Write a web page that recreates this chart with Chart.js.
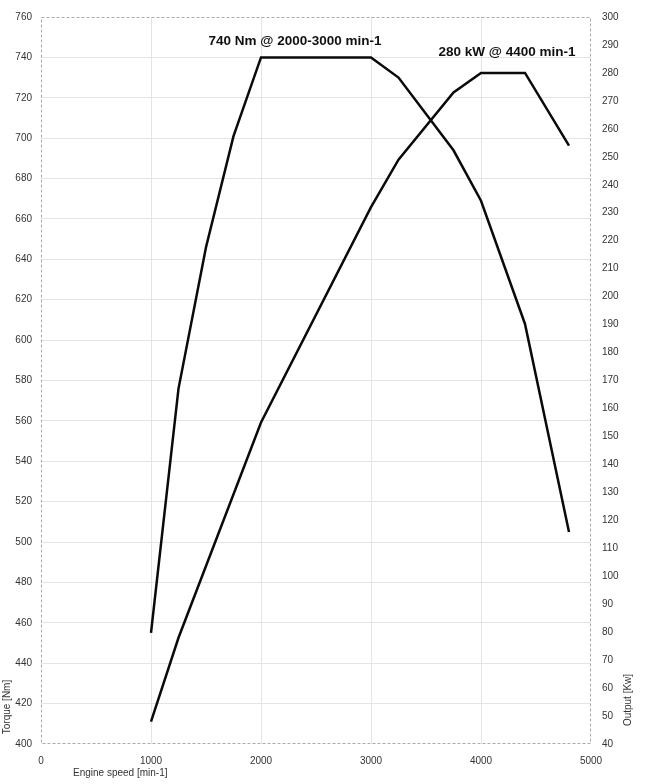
<!DOCTYPE html>
<html>
<head>
<meta charset="utf-8">
<script src="https://cdn.jsdelivr.net/npm/chart.js@4"></script>
<style>
  html, body { margin: 0; padding: 0; background: #ffffff; }
  #wrap { width: 647px; height: 784px; position: relative; }
</style>
</head>
<body>
<div id="wrap"><canvas id="c"></canvas></div>
<script>
// ---- data ----
const torqueRpm = [1000, 1250, 1500, 1750, 2000, 3000, 3250, 3750, 4000, 4400, 4800];
const torqueNm  = [455, 576, 646, 701, 740, 740, 730, 694, 669, 608, 505];
const powerRpm  = [1000, 1250, 2000, 3000, 3250, 3750, 4000, 4400, 4800];
const powerKw   = [48, 78, 155, 232, 249, 273, 280, 280, 254];
const xTitle = "Engine speed [min-1]";
const yLeftTitle = "Torque [Nm]";
const yRightTitle = "Output [Kw]";
const noteTexts = ["740 Nm @ 2000-3000 min-1", "280 kW @ 4400 min-1"];
const noteRpm = [2310, 4236];
const noteValue = [740, 280];
const noteAxis = ["yL", "yR"];

const FONT = "'Liberation Sans', Arial, Helvetica, sans-serif";
const GRID = "#e4e4e4";

function pts(xs, ys) { return xs.map((x, i) => ({ x: x, y: ys[i] })); }

const framePlugin = {
  id: 'frame',
  afterDraw(chart) {
    const ctx = chart.ctx, a = chart.chartArea;
    ctx.save();
    ctx.strokeStyle = '#aaaaaa';
    ctx.lineWidth = 1;
    ctx.setLineDash([3, 2]);
    ctx.strokeRect(a.left + 0.5, a.top + 0.5, a.right - a.left - 1, a.bottom - a.top - 1);
    ctx.restore();

    // annotations
    ctx.save();
    ctx.fillStyle = '#111111';
    ctx.font = "bold 13.5px " + FONT;
    ctx.textAlign = 'center';
    ctx.textBaseline = 'middle';
    const offs = [-16, -21];
    noteTexts.forEach((t, i) => {
      const x = chart.scales.x.getPixelForValue(noteRpm[i]);
      const y = chart.scales[noteAxis[i]].getPixelForValue(noteValue[i]) + offs[i];
      ctx.fillText(t, x, y);
    });
    ctx.restore();

    // axis titles
    ctx.save();
    ctx.fillStyle = '#333333';
    ctx.font = "10px " + FONT;
    ctx.textBaseline = 'middle';
    ctx.textAlign = 'left';
    ctx.fillText(xTitle, a.left + 32, a.bottom + 29);
    ctx.save();
    ctx.translate(7, a.bottom - 37);
    ctx.rotate(-Math.PI / 2);
    ctx.textAlign = 'center';
    ctx.fillText(yLeftTitle, 0, 0);
    ctx.restore();
    ctx.save();
    ctx.translate(a.right + 37, a.bottom - 44);
    ctx.rotate(-Math.PI / 2);
    ctx.textAlign = 'center';
    ctx.fillText(yRightTitle, 0, 0);
    ctx.restore();
    ctx.restore();
  }
};

new Chart(document.getElementById('c'), {
  type: 'line',
  data: {
    datasets: [
      { label: 'Torque', data: pts(torqueRpm, torqueNm), yAxisID: 'yL',
        borderColor: '#0a0a0a', borderWidth: 2.5, pointRadius: 0, tension: 0, fill: false },
      { label: 'Output', data: pts(powerRpm, powerKw), yAxisID: 'yR',
        borderColor: '#0a0a0a', borderWidth: 2.5, pointRadius: 0, tension: 0, fill: false }
    ]
  },
  options: {
    responsive: true,
    maintainAspectRatio: false,
    animation: false,
    layout: { padding: { top: 14, left: 0, right: 0, bottom: 0 } },
    plugins: { legend: { display: false }, tooltip: { enabled: false } },
    scales: {
      x: {
        type: 'linear', position: 'bottom', min: 0, max: 5000,
        ticks: { stepSize: 1000, color: '#333333', font: { family: FONT, size: 10 }, padding: 11, maxRotation: 0,
                 callback: (v) => String(v) },
        grid: { drawTicks: false, color: (c) => (c.tick && (c.tick.value === 0 || c.tick.value === 5000)) ? 'rgba(0,0,0,0)' : GRID },
        border: { display: false },
        afterFit(s) { s.height = 40; }
      },
      yL: {
        type: 'linear', position: 'left', min: 400, max: 760,
        ticks: { stepSize: 20, color: '#333333', font: { family: FONT, size: 10 }, padding: 9,
                 callback: (v) => String(v) },
        grid: { drawTicks: false, color: (c) => (c.tick && (c.tick.value === 400 || c.tick.value === 760)) ? 'rgba(0,0,0,0)' : GRID },
        border: { display: false },
        afterFit(s) { s.width = 41; }
      },
      yR: {
        type: 'linear', position: 'right', min: 40, max: 300,
        ticks: { stepSize: 10, color: '#333333', font: { family: FONT, size: 10 }, padding: 11,
                 callback: (v) => String(v) },
        grid: { display: false, drawTicks: false },
        border: { display: false },
        afterFit(s) { s.width = 56; }
      }
    }
  },
  plugins: [framePlugin]
});
</script>
</body>
</html>
